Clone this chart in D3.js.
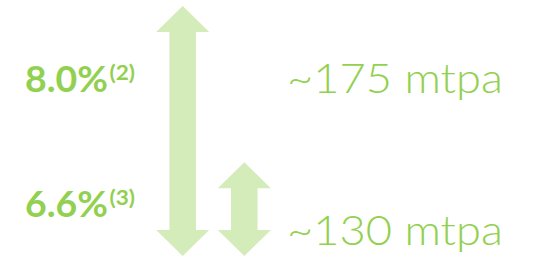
<!DOCTYPE html>
<html>
<head>
<meta charset="utf-8">
<script src="https://cdn.jsdelivr.net/npm/d3@7"></script>
<style>
  body { margin: 0; background: #fff; }
  svg { display: block; }
</style>
</head>
<body>
<svg id="chart" width="536" height="257"></svg>
<script>
// growth rates (left) and capacities (right)
var rates = ["8.0%", "6.6%"];
var notes = ["(2)", "(3)"];
var capacities = [175, 130];
var capLabels = ["~175 mtpa", "~130 mtpa"];

var green = "#92d050";
var light = "#d3ecb9";

var svg = d3.select("#chart");

// arrows run from a common floor up to their capacity
var y = d3.scaleLinear().domain([103, 175]).range([256, 6]);
var x = d3.scalePoint().domain(d3.range(capacities.length)).range([182.7, 244.3]);

var headW = 53, shaftW = 26.5, headH = 26;

function arrowPath(i) {
    var cx = x(i), top = y(capacities[i]), bot = y.range()[0];
    var p = d3.path();
    p.moveTo(cx, top);
    p.lineTo(cx + headW / 2, top + headH);
    p.lineTo(cx + shaftW / 2, top + headH);
    p.lineTo(cx + shaftW / 2, bot - headH);
    p.lineTo(cx + headW / 2, bot - headH);
    p.lineTo(cx, bot);
    p.lineTo(cx - headW / 2, bot - headH);
    p.lineTo(cx - shaftW / 2, bot - headH);
    p.lineTo(cx - shaftW / 2, top + headH);
    p.lineTo(cx - headW / 2, top + headH);
    p.closePath();
    return p.toString();
}

svg.selectAll(".arrow")
    .data(capacities)
    .enter().append("path")
    .attr("class", "arrow")
    .attr("d", function(d, i) { return arrowPath(i); })
    .attr("fill", light);

// left labels
var leftY = [91.5, 216.5];
svg.selectAll(".rate")
    .data(rates)
    .enter().append("text")
    .attr("class", "rate")
    .attr("x", 25)
    .attr("y", function(d, i) { return leftY[i]; })
    .attr("textLength", 83)
    .attr("lengthAdjust", "spacingAndGlyphs")
    .style("font-family", "Lato")
    .style("font-weight", "bold")
    .style("font-size", "36px")
    .attr("fill", green)
    .text(function(d) { return d; });

svg.selectAll(".note")
    .data(notes)
    .enter().append("text")
    .attr("class", "note")
    .attr("x", 109.5)
    .attr("y", function(d, i) { return leftY[i] - 11.5; })
    .attr("textLength", 25.5)
    .attr("lengthAdjust", "spacingAndGlyphs")
    .style("font-family", "Lato")
    .style("font-weight", "bold")
    .style("font-size", "21px")
    .attr("fill", green)
    .text(function(d) { return d; });

// right labels
var rightY = [92.5, 245];
svg.selectAll(".cap")
    .data(capLabels)
    .enter().append("text")
    .attr("class", "cap")
    .attr("x", 287)
    .attr("y", function(d, i) { return rightY[i]; })
    .attr("textLength", 216)
    .attr("lengthAdjust", "spacingAndGlyphs")
    .style("font-family", "Lato")
    .style("font-weight", "300")
    .style("font-size", "42px")
    .attr("fill", green)
    .text(function(d) { return d; });
</script>
</body>
</html>
